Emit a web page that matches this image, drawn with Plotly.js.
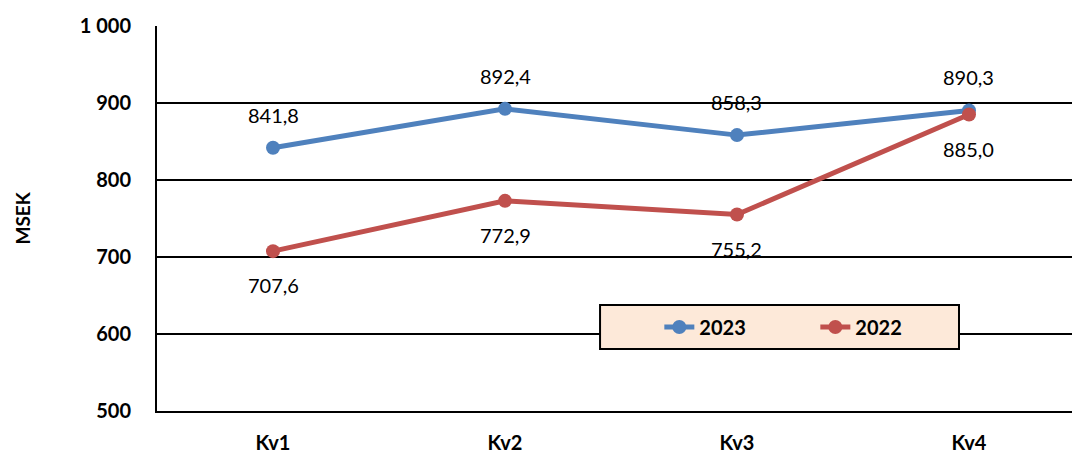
<!DOCTYPE html>
<html>
<head>
<meta charset="utf-8">
<script src="https://cdn.plot.ly/plotly-3.0.1.min.js"></script>
<style>html,body{margin:0;padding:0;background:#fff;}#chart{width:1072px;height:453px;}</style>
</head>
<body>
<div id="chart"></div>
<script>
const categories = ["Kv1", "Kv2", "Kv3", "Kv4"];
const values2023 = [841.8, 892.4, 858.3, 890.3];
const values2022 = [707.6, 772.9, 755.2, 885.0];
const seriesNames = ["2023", "2022"];
const yTicks = [500, 600, 700, 800, 900, 1000];

const FONT = "Lato, 'Open Sans', sans-serif";
const blue = "#4F81BD", red = "#C0504D";

const fmt = v => v.toFixed(1).replace(".", ",");

const traces = [
  {x: categories, y: values2023, name: seriesNames[0], type: "scatter", mode: "lines+markers",
   line: {color: blue, width: 5}, marker: {color: blue, size: 14}, hoverinfo: "skip"},
  {x: categories, y: values2022, name: seriesNames[1], type: "scatter", mode: "lines+markers",
   line: {color: red, width: 5}, marker: {color: red, size: 14}, hoverinfo: "skip"}
];

const annotations = [];
categories.forEach((c, i) => {
  annotations.push({x: c, y: values2023[i], xref: "x", yref: "y", text: fmt(values2023[i]),
    showarrow: false, yshift: 33, font: {family: FONT, size: 20, color: "#000"}});
  annotations.push({x: c, y: values2022[i], xref: "x", yref: "y", text: fmt(values2022[i]),
    showarrow: false, yshift: -34, font: {family: FONT, size: 20, color: "#000"}});
});
annotations.push({text: "MSEK", xref: "paper", yref: "paper", x: -0.1475, y: 0.5, textangle: -90,
  xanchor: "center", yanchor: "middle",
  showarrow: false, font: {family: FONT, size: 19, color: "#000", weight: "bold"}});

const layout = {
  width: 1072, height: 453,
  margin: {l: 157, r: 0, t: 26, b: 42},
  paper_bgcolor: "#fff", plot_bgcolor: "#fff",
  separators: ", ",
  font: {family: FONT, color: "#000"},
  showlegend: true,
  legend: {orientation: "h", x: 0.549, y: 0.218, xanchor: "left", yanchor: "middle",
    bgcolor: "rgba(0,0,0,0)", borderwidth: 0, entrywidth: 111, entrywidthmode: "pixels",
    font: {family: FONT, size: 20, color: "#000", weight: "bold"}},
  xaxis: {type: "category", range: [-0.5, 3.444], showgrid: false, showline: true, linecolor: "#000",
    linewidth: 2, mirror: false, ticks: "", ticklabelstandoff: 13,
    tickfont: {family: FONT, size: 20, color: "#000", weight: "bold"}, fixedrange: true},
  yaxis: {range: [500, 1000], tickvals: yTicks, separatethousands: true, tickformat: ",d",
    showgrid: true, gridcolor: "#000", gridwidth: 1.5, showline: true, linecolor: "#000", linewidth: 2,
    zeroline: false, ticks: "", ticklabelstandoff: 20,
    tickfont: {family: FONT, size: 20, color: "#000", weight: "bold"}, fixedrange: true},
  shapes: [
    {type: "rect", xref: "paper", yref: "paper", x0: 0.4842, x1: 0.8765, y0: 0.161, y1: 0.2753,
     fillcolor: "#FDE9D9", line: {color: "#000", width: 2}, layer: "above"}
  ],
  annotations: annotations
};

Plotly.newPlot("chart", traces, layout, {staticPlot: true, displayModeBar: false});
</script>
</body>
</html>
